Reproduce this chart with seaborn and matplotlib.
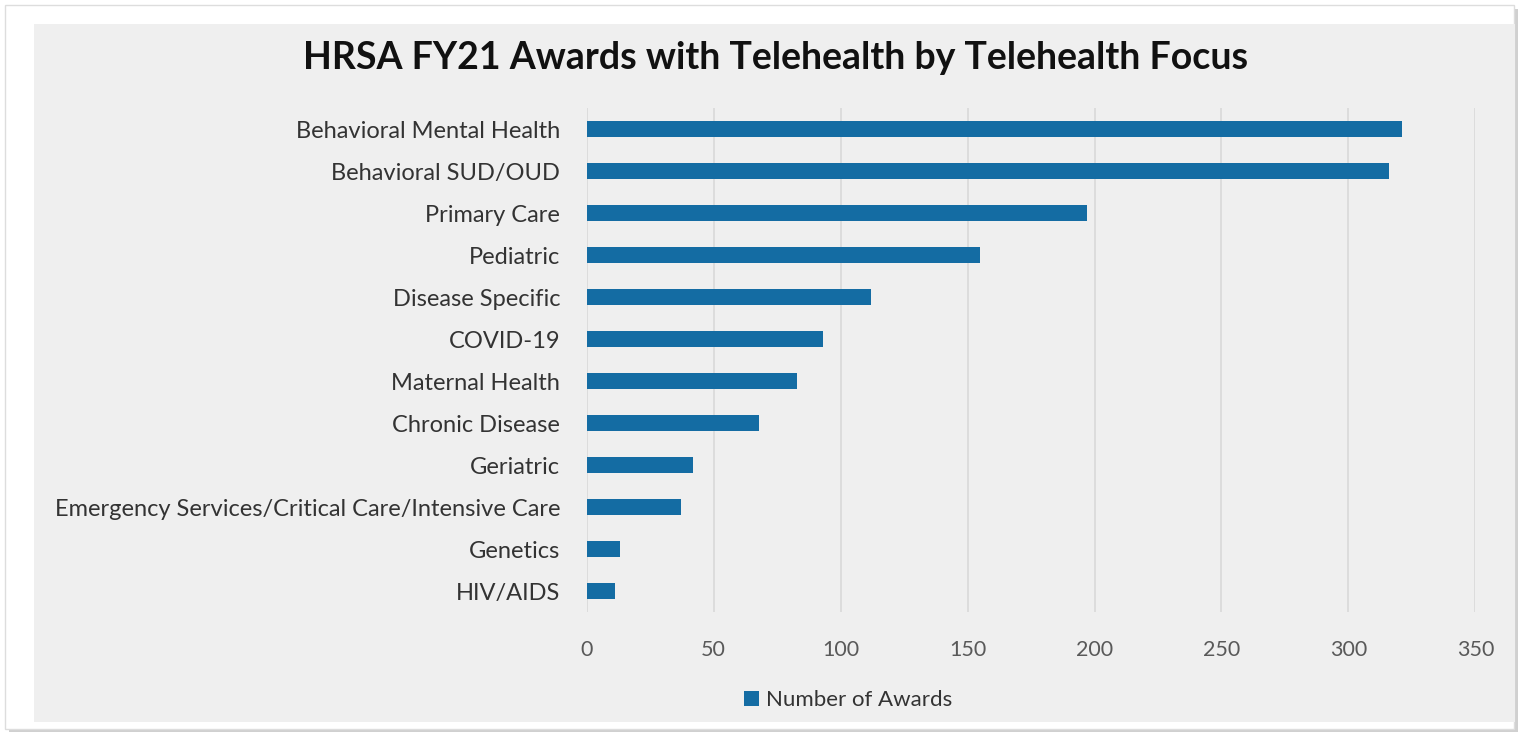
import matplotlib.pyplot as plt
import matplotlib.patches as mpatches
import seaborn as sns
import pandas as pd

categories = ["Behavioral Mental Health", "Behavioral SUD/OUD", "Primary Care", "Pediatric",
              "Disease Specific", "COVID-19", "Maternal Health", "Chronic Disease", "Geriatric",
              "Emergency Services/Critical Care/Intensive Care", "Genetics", "HIV/AIDS"]
awards = [321, 316, 197, 155, 112, 93, 83, 68, 42, 37, 13, 11]
x_ticks = [0, 50, 100, 150, 200, 250, 300, 350]

df = pd.DataFrame({"Focus": categories, "Number of Awards": awards})

sns.set_theme(style="white")
plt.rcParams['font.family'] = ['Lato', 'DejaVu Sans']

BAR = "#146ca3"
PANEL = "#efefef"

fig = plt.figure(figsize=(15.32, 7.42), dpi=100, facecolor="white")

# outer frame with soft shadow, then the grey chart panel (behind the axes)
fig.patches.append(mpatches.Rectangle((0.006, 0.013), 0.985, 0.975, transform=fig.transFigure,
                                      facecolor="#d0d0d0", edgecolor="none", zorder=-3))
fig.patches.append(mpatches.Rectangle((0.003, 0.018), 0.985, 0.975, transform=fig.transFigure,
                                      facecolor="white", edgecolor="#dddddd", lw=1, zorder=-2))
fig.patches.append(mpatches.Rectangle((0.022, 0.027), 0.967, 0.94, transform=fig.transFigure,
                                      facecolor=PANEL, edgecolor="none", zorder=-1))

ax = fig.add_axes([0.383, 0.175, 0.580, 0.679])
ax.set_facecolor("none")
sns.barplot(data=df, y="Focus", x="Number of Awards", color=BAR, saturation=1, width=0.38,
            orient="h", ax=ax, label="Number of Awards", linewidth=0, zorder=3)

ax.set_xlim(0, 350)
ax.set_ylim(11.5, -0.5)
ax.set_xticks(x_ticks)
ax.xaxis.grid(True, color="#d9d9d9", lw=1.2, zorder=0)
ax.set_axisbelow(True)
for s in ax.spines.values():
    s.set_visible(False)
ax.set_xlabel("")
ax.set_ylabel("")
ax.tick_params(axis="x", labelsize=15.5, colors="#595959", pad=20, length=0)
ax.tick_params(axis="y", labelsize=17, colors="#333333", pad=19, length=0)

fig.text(0.506, 0.922, "HRSA FY21 Awards with Telehealth by Telehealth Focus",
         ha="center", va="center", fontsize=27, fontweight="bold", color="#111111")

leg = ax.legend(loc="center", bbox_to_anchor=(0.294, -0.175), frameon=False, fontsize=16,
                handlelength=0.7, handleheight=0.7, handletextpad=0.3)
for t in leg.get_texts():
    t.set_color("#333333")

fig.savefig("out.png", dpi=100, facecolor="white")
